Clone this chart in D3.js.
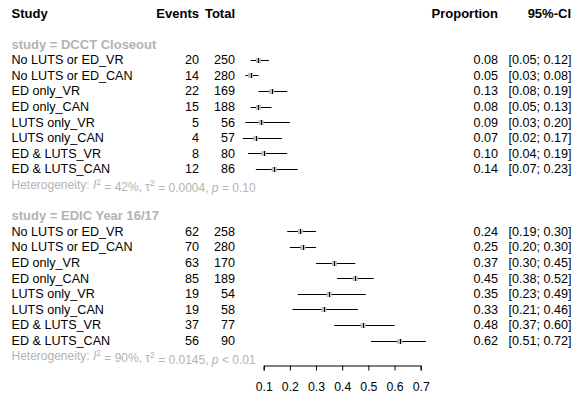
<!DOCTYPE html>
<html>
<head>
<meta charset="utf-8">
<script src="https://cdn.jsdelivr.net/npm/d3@7"></script>
<style>
  html, body { margin: 0; padding: 0; background: #fff; }
  svg { display: block; font-family: "Liberation Sans", Arial, sans-serif; }
</style>
</head>
<body>
<svg id="chart" width="572" height="396"></svg>
<script>
// Forest plot of proportions by study subgroup
const studies = ["DCCT Closeout", "EDIC Year 16/17"];
const labels = [
  "No LUTS or ED_VR", "No LUTS or ED_CAN", "ED only_VR", "ED only_CAN",
  "LUTS only_VR", "LUTS only_CAN", "ED & LUTS_VR", "ED & LUTS_CAN"
];
const eventsDCCT = [20, 14, 22, 15, 5, 4, 8, 12];
const totalDCCT = [250, 280, 169, 188, 56, 57, 80, 86];
const propDCCT = [0.08, 0.05, 0.13, 0.08, 0.09, 0.07, 0.10, 0.14];
const lowerDCCT = [0.05, 0.03, 0.08, 0.05, 0.03, 0.02, 0.04, 0.07];
const upperDCCT = [0.12, 0.08, 0.19, 0.13, 0.20, 0.17, 0.19, 0.23];

const eventsEDIC = [62, 70, 63, 85, 19, 19, 37, 56];
const totalEDIC = [258, 280, 170, 189, 54, 58, 77, 90];
const propEDIC = [0.24, 0.25, 0.37, 0.45, 0.35, 0.33, 0.48, 0.62];
const lowerEDIC = [0.19, 0.20, 0.30, 0.38, 0.23, 0.21, 0.37, 0.51];
const upperEDIC = [0.30, 0.30, 0.45, 0.52, 0.49, 0.46, 0.60, 0.72];

const heterogeneity = [
  { i2: "42%", tau2: "0.0004", p: "= 0.10" },
  { i2: "90%", tau2: "0.0145", p: "< 0.01" }
];
const xTicks = [0.1, 0.2, 0.3, 0.4, 0.5, 0.6, 0.7];

const groups = [
  { name: studies[0], events: eventsDCCT, total: totalDCCT, prop: propDCCT, lo: lowerDCCT, hi: upperDCCT, het: heterogeneity[0] },
  { name: studies[1], events: eventsEDIC, total: totalEDIC, prop: propEDIC, lo: lowerEDIC, hi: upperEDIC, het: heterogeneity[1] }
];

const svg = d3.select("#chart");
const rowH = 15.6;
const rowY = i => 13 + i * rowH;
const x = d3.scaleLinear().domain([0.1, 0.7]).range([263.7, 420.7]);
const fmt = d3.format(".2f");

const col = { label: 11.5, events: 199, total: 235, prop: 498, ci: 508.5 };
const grey = "#b3b3b3";
const bodySize = 12.6;

// Column headers
const header = svg.append("g").attr("font-weight", "bold").attr("font-size", 13).attr("fill", "#000");
header.append("text").attr("x", col.label).attr("y", rowY(0)).attr("dy", "0.35em").text("Study");
header.append("text").attr("x", col.events).attr("y", rowY(0)).attr("dy", "0.35em").attr("text-anchor", "end").text("Events");
header.append("text").attr("x", col.total).attr("y", rowY(0)).attr("dy", "0.35em").attr("text-anchor", "end").text("Total");
header.append("text").attr("x", col.prop).attr("y", rowY(0)).attr("dy", "0.35em").attr("text-anchor", "end").text("Proportion");
header.append("text").attr("x", 571).attr("y", rowY(0)).attr("dy", "0.35em").attr("text-anchor", "end").text("95%-CI");

groups.forEach((g, gi) => {
  const base = 2 + gi * 11;
  const gg = svg.append("g").attr("font-size", bodySize);

  gg.append("text")
    .attr("x", col.label).attr("y", rowY(base)).attr("dy", "0.35em")
    .attr("font-weight", "bold").attr("font-size", 13).attr("fill", grey)
    .text("study = " + g.name);

  const rows = labels.map((lab, i) => ({
    lab, ev: g.events[i], n: g.total[i], p: g.prop[i], lo: g.lo[i], hi: g.hi[i], y: rowY(base + 1 + i)
  }));

  const r = gg.selectAll("g.row").data(rows).join("g").attr("class", "row");
  r.append("text").attr("x", col.label).attr("y", d => d.y).attr("dy", "0.35em").text(d => d.lab);
  r.append("text").attr("x", col.events).attr("y", d => d.y).attr("dy", "0.35em").attr("text-anchor", "end").text(d => d.ev);
  r.append("text").attr("x", col.total).attr("y", d => d.y).attr("dy", "0.35em").attr("text-anchor", "end").text(d => d.n);
  r.append("text").attr("x", col.prop).attr("y", d => d.y).attr("dy", "0.35em").attr("text-anchor", "end").text(d => fmt(d.p));
  r.append("text").attr("x", col.ci).attr("y", d => d.y).attr("dy", "0.35em")
    .text(d => "[" + fmt(d.lo) + "; " + fmt(d.hi) + "]");

  // confidence interval line
  r.append("line")
    .attr("x1", d => x(d.lo)).attr("x2", d => x(d.hi))
    .attr("y1", d => Math.round(d.y) + 0.5).attr("y2", d => Math.round(d.y) + 0.5)
    .attr("stroke", "#000").attr("stroke-width", 1);
  // point estimate square
  r.append("rect")
    .attr("x", d => x(d.p) - 2.5).attr("y", d => Math.round(d.y) - 2)
    .attr("width", 5).attr("height", 5)
    .attr("fill", "#bdbdbd");
  r.append("line")
    .attr("x1", d => Math.round(x(d.p)) + 0.5).attr("x2", d => Math.round(x(d.p)) + 0.5)
    .attr("y1", d => Math.round(d.y) - 2).attr("y2", d => Math.round(d.y) + 3)
    .attr("stroke", "#000").attr("stroke-width", 1);

  // heterogeneity line
  const ht = gg.append("text")
    .attr("x", col.label).attr("y", rowY(base + 9)).attr("dy", "0.35em")
    .attr("fill", grey).attr("font-size", 12);
  ht.append("tspan").text("Heterogeneity: ");
  ht.append("tspan").attr("font-style", "italic").text("I");
  ht.append("tspan").attr("font-size", 8.5).attr("dy", "-0.5em").text("2");
  ht.append("tspan").attr("dy", "0.5em").text(" = " + g.het.i2 + ", \u03c4");
  ht.append("tspan").attr("font-size", 8.5).attr("dy", "-0.5em").text("2");
  ht.append("tspan").attr("dy", "0.5em").text(" = " + g.het.tau2 + ", ");
  ht.append("tspan").attr("font-style", "italic").text("p");
  ht.append("tspan").text(" " + g.het.p);
});

// x axis
const axis = d3.axisBottom(x).tickValues(xTicks).tickFormat(d3.format(".1f")).tickSize(5).tickPadding(12);
const ax = svg.append("g").attr("transform", "translate(0,365.5)").call(axis);
ax.select(".domain").attr("stroke", "#000");
ax.selectAll(".tick line").attr("stroke", "#000");
ax.selectAll(".tick text").attr("font-size", 12.3).attr("font-family", "Liberation Sans, Arial, sans-serif").attr("fill", "#000");
</script>
</body>
</html>
